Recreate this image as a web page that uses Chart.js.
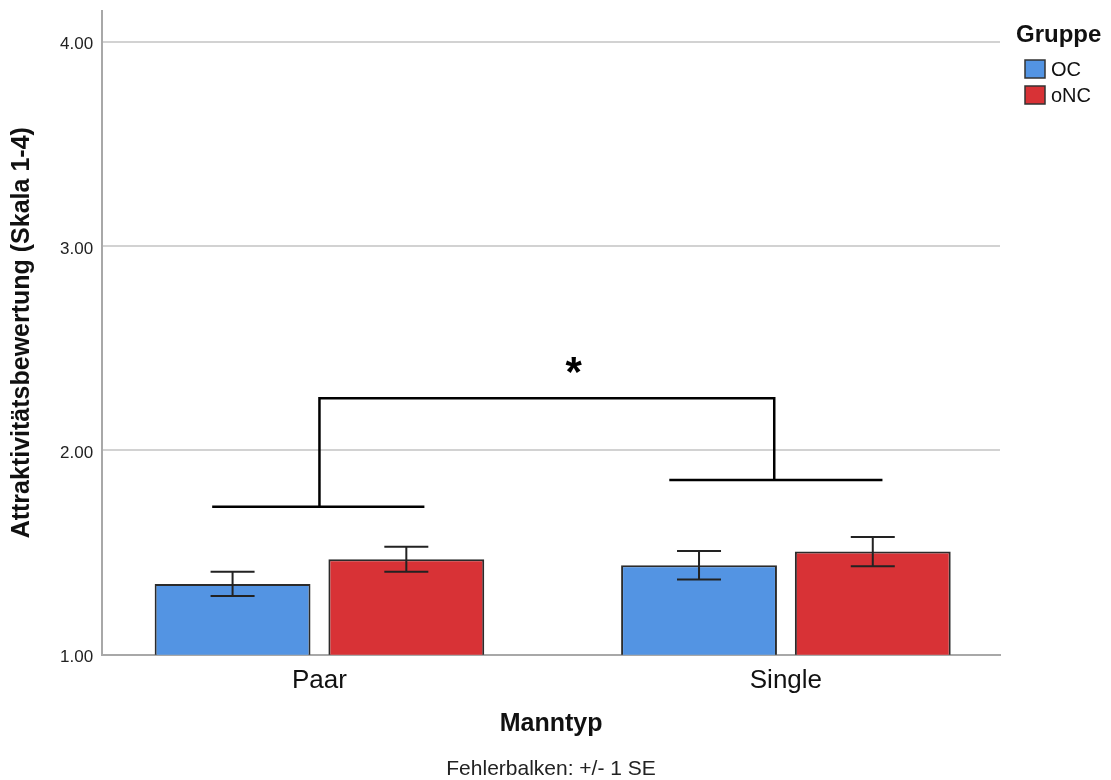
<!DOCTYPE html>
<html>
 <head>
  <meta charset="utf-8">
  <title>Attraktivitätsbewertung nach Manntyp</title>
  <script src="https://cdn.jsdelivr.net/npm/chart.js"></script>
  <style>
    body { margin: 0; background: #ffffff; }
    #wrap { width: 1111px; height: 780px; }
  </style>
 </head>
 <body>
  <div id="wrap"><canvas id="myChart"></canvas></div>
  <script>
    var categories = ['Paar', 'Single'];
    var groups = ['OC', 'oNC'];
    var ocMeans = [1.347, 1.438];
    var oncMeans = [1.468, 1.505];
    var ocSE = [0.059, 0.070];
    var oncSE = [0.061, 0.072];
    var yTicks = [1, 2, 3, 4];

    // significance bracket, data units (x = category index)
    var groupLineX = [[-0.23, 0.225], [0.75, 1.207]];
    var groupLineY = [1.725, 1.855];
    var bridgeX = [0.0, 0.975];
    var bridgeY = 2.255;
    var starXY = [0.545, 2.428];

    var FONT = "'Liberation Sans', Arial, sans-serif";
    var colors = ['#5394e3', '#d83236'];

    var extras = {
      id: 'extras',
      afterDatasetsDraw: function (chart) {
        var ctx = chart.ctx, xs = chart.scales.x, ys = chart.scales.y;
        ctx.save();
        // error bars
        ctx.strokeStyle = '#222';
        ctx.lineWidth = 2;
        chart.data.datasets.forEach(function (ds, di) {
          chart.getDatasetMeta(di).data.forEach(function (bar, i) {
            var m = ds.data[i].y, se = ds.se[i];
            var top = ys.getPixelForValue(m + se), bot = ys.getPixelForValue(m - se);
            ctx.beginPath();
            ctx.moveTo(bar.x, top); ctx.lineTo(bar.x, bot);
            ctx.moveTo(bar.x - 22, top); ctx.lineTo(bar.x + 22, top);
            ctx.moveTo(bar.x - 22, bot); ctx.lineTo(bar.x + 22, bot);
            ctx.stroke();
          });
        });
        // bracket
        ctx.strokeStyle = '#000';
        ctx.lineWidth = 2.5;
        ctx.beginPath();
        groupLineX.forEach(function (seg, i) {
          ctx.moveTo(xs.getPixelForValue(seg[0]), ys.getPixelForValue(groupLineY[i]));
          ctx.lineTo(xs.getPixelForValue(seg[1]), ys.getPixelForValue(groupLineY[i]));
        });
        ctx.moveTo(xs.getPixelForValue(bridgeX[0]), ys.getPixelForValue(groupLineY[0]));
        ctx.lineTo(xs.getPixelForValue(bridgeX[0]), ys.getPixelForValue(bridgeY));
        ctx.lineTo(xs.getPixelForValue(bridgeX[1]), ys.getPixelForValue(bridgeY));
        ctx.lineTo(xs.getPixelForValue(bridgeX[1]), ys.getPixelForValue(groupLineY[1]));
        ctx.stroke();
        // asterisk, glyph centred on starXY
        ctx.fillStyle = '#000';
        ctx.font = 'bold 42px ' + FONT;
        ctx.textAlign = 'center';
        ctx.textBaseline = 'alphabetic';
        ctx.fillText('*', xs.getPixelForValue(starXY[0]), ys.getPixelForValue(starXY[1]) + 42 * 0.55);
        ctx.restore();
      },
      afterDraw: function (chart) {
        // legend on the right
        var ctx = chart.ctx;
        var left = chart.chartArea.right + 16;
        ctx.save();
        ctx.fillStyle = '#111';
        ctx.textBaseline = 'middle';
        ctx.textAlign = 'left';
        ctx.font = 'bold 24px ' + FONT;
        ctx.fillText('Gruppe', left, 35);
        ctx.font = '20px ' + FONT;
        chart.data.datasets.forEach(function (ds, i) {
          var y = 60 + i * 26;
          ctx.fillStyle = ds.backgroundColor;
          ctx.fillRect(left + 9, y, 20, 18);
          ctx.strokeStyle = '#333';
          ctx.lineWidth = 1.5;
          ctx.strokeRect(left + 9, y, 20, 18);
          ctx.fillStyle = '#111';
          ctx.fillText(ds.label, left + 35, y + 10);
        });
        ctx.restore();
      }
    };

    var ctx = document.getElementById('myChart').getContext('2d');
    var myChart = new Chart(ctx, {
      type: 'bar',
      data: {
        datasets: [
          { label: groups[0], data: ocMeans.map(function (v, i) { return { x: i, y: v }; }), se: ocSE,
            backgroundColor: colors[0], borderColor: '#2b2b2b', borderWidth: 2, borderSkipped: false },
          { label: groups[1], data: oncMeans.map(function (v, i) { return { x: i, y: v }; }), se: oncSE,
            backgroundColor: colors[1], borderColor: '#2b2b2b', borderWidth: 2, borderSkipped: false }
        ]
      },
      options: {
        responsive: true,
        maintainAspectRatio: false,
        animation: false,
        categoryPercentage: 0.745,
        barPercentage: 0.897,
        layout: { padding: { left: 4, right: 111, top: 0, bottom: 0 } },
        plugins: {
          legend: { display: false },
          tooltip: { enabled: false },
          title: {
            display: true, position: 'bottom', fullSize: false, text: 'Fehlerbalken: +/- 1 SE', color: '#222',
            font: { family: FONT, size: 21, weight: 'normal', lineHeight: 1 },
            padding: { top: 4, bottom: 0 }
          }
        },
        scales: {
          x: {
            type: 'linear', min: -0.466, max: 1.459, offset: false,
            grid: { display: false, drawTicks: false, offset: false },
            border: { color: '#a8a8a8', width: 2 },
            afterBuildTicks: function (s) { s.ticks = [0, 1].map(function (v) { return { value: v }; }); },
            ticks: { callback: function (v) { return categories[v]; }, color: '#111', padding: 10,
                     font: { family: FONT, size: 26 } },
            title: { display: true, text: 'Manntyp', color: '#111', padding: { top: 3, bottom: 16 },
                     font: { family: FONT, size: 25, weight: 'bold' } }
          },
          y: {
            min: 1, max: 4.152,
            afterBuildTicks: function (s) { s.ticks = yTicks.map(function (v) { return { value: v }; }); },
            grid: { color: '#d2d2d2', lineWidth: 2, drawTicks: false },
            border: { color: '#a8a8a8', width: 2 },
            ticks: { callback: function (v) { return v.toFixed(2); }, color: '#222', padding: 9, labelOffset: 3,
                     font: { family: FONT, size: 17, lineHeight: 0.2 } },
            title: { display: true, text: 'Attraktivitätsbewertung (Skala 1-4)', color: '#111',
                     padding: { top: 3, bottom: 14 }, font: { family: FONT, size: 25, weight: 'bold' } }
          }
        }
      },
      plugins: [extras]
    });
  </script>
 </body>
</html>
